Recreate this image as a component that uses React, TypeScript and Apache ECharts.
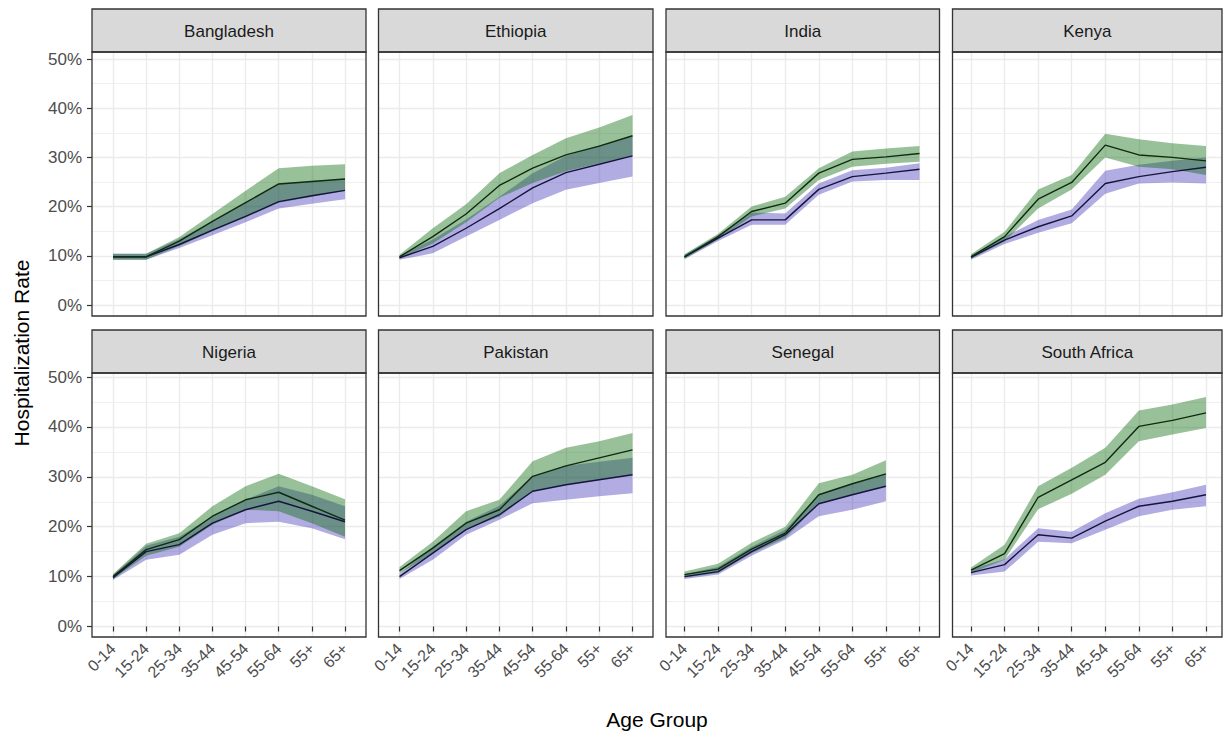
import React, { useEffect, useRef } from "react";
import * as echarts from "echarts";

// ---------------- data (percent) ----------------
const ageGroups = ["0-14", "15-24", "25-34", "35-44", "45-54", "55-64", "55+", "65+"];
const yTickStep = 10;
const yMaxTick = 50;

const bangladeshGreenMean = [9.8, 9.8, 13.0, 17.0, 20.8, 24.6, 25.1, 25.6];
const bangladeshGreenLow = [9.2, 9.2, 12.0, 15.0, 17.8, 20.8, 22.0, 23.2];
const bangladeshGreenHigh = [10.4, 10.4, 13.8, 18.5, 23.2, 27.8, 28.3, 28.6];
const bangladeshPurpleMean = [9.8, 9.8, 12.3, 15.2, 18.0, 21.0, 22.2, 23.3];
const bangladeshPurpleLow = [9.2, 9.2, 11.6, 14.2, 16.8, 19.6, 20.6, 21.5];
const bangladeshPurpleHigh = [10.4, 10.4, 13.4, 17.0, 20.8, 24.6, 25.1, 25.6];

const ethiopiaGreenMean = [9.8, 13.9, 18.5, 24.3, 27.8, 30.5, 32.3, 34.4];
const ethiopiaGreenLow = [9.4, 12.5, 16.8, 21.8, 24.8, 27.2, 28.8, 30.3];
const ethiopiaGreenHigh = [10.2, 15.6, 20.5, 26.8, 30.5, 33.9, 36.1, 38.6];
const ethiopiaPurpleMean = [9.6, 11.9, 15.6, 19.6, 23.8, 26.9, 28.6, 30.3];
const ethiopiaPurpleLow = [9.2, 10.5, 13.9, 17.3, 20.7, 23.4, 24.8, 26.1];
const ethiopiaPurpleHigh = [10.0, 13.3, 17.4, 22.0, 26.8, 30.3, 32.4, 34.4];

const indiaGreenMean = [9.8, 13.9, 19.0, 20.7, 26.8, 29.6, 30.1, 30.8];
const indiaGreenLow = [9.4, 13.3, 18.0, 19.6, 25.4, 28.1, 28.7, 29.1];
const indiaGreenHigh = [10.3, 14.5, 20.0, 22.0, 27.8, 31.2, 31.8, 32.3];
const indiaPurpleMean = [9.8, 13.6, 17.3, 17.3, 23.5, 26.1, 26.8, 27.6];
const indiaPurpleLow = [9.3, 13.0, 16.3, 16.3, 22.4, 25.1, 25.4, 25.4];
const indiaPurpleHigh = [10.2, 14.2, 18.8, 18.6, 24.7, 27.4, 27.9, 28.8];

const kenyaGreenMean = [9.8, 13.9, 21.5, 24.9, 32.5, 30.5, 30.0, 29.3];
const kenyaGreenLow = [9.4, 12.9, 19.6, 23.5, 30.0, 28.1, 27.6, 26.4];
const kenyaGreenHigh = [10.3, 14.9, 23.5, 26.4, 34.8, 33.7, 32.9, 32.3];
const kenyaPurpleMean = [9.7, 13.2, 15.9, 18.1, 24.7, 26.1, 27.1, 28.0];
const kenyaPurpleLow = [9.2, 12.4, 14.7, 16.6, 22.6, 24.7, 24.9, 24.7];
const kenyaPurpleHigh = [10.1, 13.9, 17.3, 19.4, 27.3, 28.5, 29.3, 30.0];

const nigeriaGreenMean = [10.0, 15.4, 17.4, 22.1, 25.4, 26.9, 24.1, 21.3];
const nigeriaGreenLow = [9.5, 14.2, 16.0, 20.4, 23.4, 23.1, 20.7, 18.0];
const nigeriaGreenHigh = [10.5, 16.6, 18.7, 24.1, 28.1, 30.6, 28.1, 25.5];
const nigeriaPurpleMean = [9.8, 15.0, 16.4, 20.7, 23.4, 25.1, 23.1, 21.0];
const nigeriaPurpleLow = [9.3, 13.4, 14.4, 18.4, 20.7, 21.0, 19.7, 17.5];
const nigeriaPurpleHigh = [10.3, 16.2, 18.0, 22.1, 25.4, 28.1, 26.4, 24.1];

const pakistanGreenMean = [11.2, 15.7, 20.7, 23.4, 30.1, 32.2, 33.8, 35.4];
const pakistanGreenLow = [10.6, 14.7, 19.5, 22.0, 27.1, 28.4, 29.4, 30.4];
const pakistanGreenHigh = [11.9, 17.0, 23.1, 25.4, 33.1, 35.8, 37.1, 38.8];
const pakistanPurpleMean = [10.0, 14.7, 19.4, 22.4, 27.1, 28.4, 29.4, 30.4];
const pakistanPurpleLow = [9.5, 13.4, 18.4, 21.4, 24.7, 25.4, 26.1, 26.7];
const pakistanPurpleHigh = [10.5, 16.0, 21.0, 24.2, 30.1, 32.2, 33.0, 33.8];

const senegalGreenMean = [10.4, 11.5, 15.5, 18.7, 26.4, 28.6, 30.6, null];
const senegalGreenLow = [9.8, 10.7, 14.7, 17.7, 24.6, 26.4, 28.1, null];
const senegalGreenHigh = [11.0, 12.6, 16.8, 20.0, 28.7, 30.4, 33.3, null];
const senegalPurpleMean = [10.0, 11.0, 15.0, 18.4, 24.6, 26.4, 28.1, null];
const senegalPurpleLow = [9.5, 10.4, 14.2, 17.4, 22.1, 23.4, 25.1, null];
const senegalPurpleHigh = [10.5, 11.9, 16.0, 19.4, 26.4, 28.6, 30.6, null];

const southAfricaGreenMean = [11.3, 14.6, 25.9, 29.4, 32.9, 40.1, 41.3, 42.8];
const southAfricaGreenLow = [10.7, 13.4, 23.5, 26.6, 30.4, 37.1, 38.5, 39.8];
const southAfricaGreenHigh = [11.8, 16.4, 28.1, 31.8, 35.8, 43.3, 44.5, 46.0];
const southAfricaPurpleMean = [10.8, 12.4, 18.4, 17.7, 21.1, 24.1, 25.1, 26.4];
const southAfricaPurpleLow = [10.2, 11.0, 17.0, 16.7, 19.4, 22.1, 23.4, 24.1];
const southAfricaPurpleHigh = [11.4, 13.5, 19.7, 19.0, 22.7, 25.6, 26.9, 28.4];

const countries = ["Bangladesh", "Ethiopia", "India", "Kenya", "Nigeria", "Pakistan", "Senegal", "South Africa"];

type V = (number | null)[];
const panels: { name: string; gM: V; gL: V; gH: V; pM: V; pL: V; pH: V }[] = [
  { name: countries[0], gM: bangladeshGreenMean, gL: bangladeshGreenLow, gH: bangladeshGreenHigh, pM: bangladeshPurpleMean, pL: bangladeshPurpleLow, pH: bangladeshPurpleHigh },
  { name: countries[1], gM: ethiopiaGreenMean, gL: ethiopiaGreenLow, gH: ethiopiaGreenHigh, pM: ethiopiaPurpleMean, pL: ethiopiaPurpleLow, pH: ethiopiaPurpleHigh },
  { name: countries[2], gM: indiaGreenMean, gL: indiaGreenLow, gH: indiaGreenHigh, pM: indiaPurpleMean, pL: indiaPurpleLow, pH: indiaPurpleHigh },
  { name: countries[3], gM: kenyaGreenMean, gL: kenyaGreenLow, gH: kenyaGreenHigh, pM: kenyaPurpleMean, pL: kenyaPurpleLow, pH: kenyaPurpleHigh },
  { name: countries[4], gM: nigeriaGreenMean, gL: nigeriaGreenLow, gH: nigeriaGreenHigh, pM: nigeriaPurpleMean, pL: nigeriaPurpleLow, pH: nigeriaPurpleHigh },
  { name: countries[5], gM: pakistanGreenMean, gL: pakistanGreenLow, gH: pakistanGreenHigh, pM: pakistanPurpleMean, pL: pakistanPurpleLow, pH: pakistanPurpleHigh },
  { name: countries[6], gM: senegalGreenMean, gL: senegalGreenLow, gH: senegalGreenHigh, pM: senegalPurpleMean, pL: senegalPurpleLow, pH: senegalPurpleHigh },
  { name: countries[7], gM: southAfricaGreenMean, gL: southAfricaGreenLow, gH: southAfricaGreenHigh, pM: southAfricaPurpleMean, pL: southAfricaPurpleLow, pH: southAfricaPurpleHigh },
];

// ---------------- layout ----------------
const FONT = '"Liberation Sans", Arial, sans-serif';
const PANEL_LEFT = [92, 378.5, 666, 952.5];
const PANEL_RIGHT = [366, 653, 939.5, 1222];
const DATA_LEFT = [113, 399.5, 684.5, 971];
const DATA_RIGHT = [345, 632.5, 919.5, 1206];
const STRIP_TOP = [9, 330];
const PANEL_TOP = [52, 373];
const PANEL_BOTTOM = [316, 637];
const Y_ZERO = [305, 626.5];
const Y_TOP_TICK = [59, 377];

const GREEN_FILL = "rgba(0,100,0,0.40)";
const PURPLE_FILL = "rgba(50,40,180,0.38)";
const GREEN_LINE = "#0f2a0f";
const PURPLE_LINE = "#16133d";
const GRID_COLOR = "#ebebeb";

const diff = (hi: V, lo: V) => hi.map((h, i) => (h == null || lo[i] == null ? null : +(h - (lo[i] as number)).toFixed(3)));

function buildOption() {
  const grid: any[] = [];
  const xAxis: any[] = [];
  const yAxis: any[] = [];
  const series: any[] = [];
  const graphic: any[] = [];

  panels.forEach((p, i) => {
    const r = Math.floor(i / 4);
    const c = i % 4;
    const pxPerUnit = (Y_ZERO[r] - Y_TOP_TICK[r]) / yMaxTick;
    const yMinB = -(PANEL_BOTTOM[r] - Y_ZERO[r]) / pxPerUnit;
    const yMaxB = yMaxTick + (Y_TOP_TICK[r] - PANEL_TOP[r]) / pxPerUnit;

    // grid A: horizontal grid lines + y labels
    grid.push({ left: PANEL_LEFT[c], top: Y_TOP_TICK[r], width: PANEL_RIGHT[c] - PANEL_LEFT[c], height: Y_ZERO[r] - Y_TOP_TICK[r], show: false });
    xAxis.push({ gridIndex: 2 * i, type: "value", min: 0, max: 1, show: false });
    yAxis.push({
      gridIndex: 2 * i,
      type: "value",
      min: 0,
      max: yMaxTick,
      interval: yTickStep,
      axisLine: { show: false },
      axisTick: { show: c === 0, length: 5, lineStyle: { color: "#333", width: 1.2 } },
      axisLabel: { show: c === 0, formatter: (v: number) => `${v}%`, color: "#4d4d4d", fontSize: 17, fontFamily: FONT, margin: 10 },
      splitLine: { show: true, lineStyle: { color: GRID_COLOR, width: 1.4 } },
      minorTick: { show: false, splitNumber: 2 },
      minorSplitLine: { show: true, lineStyle: { color: "#f0f0f0", width: 1 } },
    });

    // grid B: data + vertical grid lines + x labels
    grid.push({ left: DATA_LEFT[c], top: PANEL_TOP[r], width: DATA_RIGHT[c] - DATA_LEFT[c], height: PANEL_BOTTOM[r] - PANEL_TOP[r], show: false });
    xAxis.push({
      gridIndex: 2 * i + 1,
      type: "category",
      data: ageGroups,
      boundaryGap: false,
      axisLine: { show: false },
      axisTick: { show: r === 1, interval: 0, length: 5, lineStyle: { color: "#333", width: 1.2 } },
      axisLabel: { show: r === 1, interval: 0, rotate: 45, color: "#4d4d4d", fontSize: 16, fontFamily: FONT, margin: 9 },
      splitLine: { show: true, interval: 0, lineStyle: { color: GRID_COLOR, width: 1.4 } },
    });
    yAxis.push({ gridIndex: 2 * i + 1, type: "value", min: yMinB, max: yMaxB, show: false });

    const ax = { xAxisIndex: 2 * i + 1, yAxisIndex: 2 * i + 1 };
    const hidden = { symbol: "none", silent: true, lineStyle: { opacity: 0, width: 0 } };
    series.push({ type: "line", ...ax, ...hidden, name: `${p.name} B low`, stack: `p${i}`, data: p.pL });
    series.push({ type: "line", ...ax, ...hidden, name: `${p.name} B band`, stack: `p${i}`, data: diff(p.pH, p.pL), areaStyle: { color: PURPLE_FILL, opacity: 1 }, z: 2 });
    series.push({ type: "line", ...ax, ...hidden, name: `${p.name} A low`, stack: `g${i}`, data: p.gL });
    series.push({ type: "line", ...ax, ...hidden, name: `${p.name} A band`, stack: `g${i}`, data: diff(p.gH, p.gL), areaStyle: { color: GREEN_FILL, opacity: 1 }, z: 3 });
    series.push({ type: "line", ...ax, name: `${p.name} B`, data: p.pM, symbol: "none", silent: true, lineStyle: { color: PURPLE_LINE, width: 1.4 }, z: 4 });
    series.push({ type: "line", ...ax, name: `${p.name} A`, data: p.gM, symbol: "none", silent: true, lineStyle: { color: GREEN_LINE, width: 1.4 }, z: 5 });

    // strip
    graphic.push({
      type: "rect",
      shape: { x: PANEL_LEFT[c], y: STRIP_TOP[r], width: PANEL_RIGHT[c] - PANEL_LEFT[c], height: PANEL_TOP[r] - STRIP_TOP[r] },
      style: { fill: "#d9d9d9", stroke: "#333", lineWidth: 1.3 },
      z: 10,
    });
    graphic.push({
      type: "text",
      x: (PANEL_LEFT[c] + PANEL_RIGHT[c]) / 2,
      y: (STRIP_TOP[r] + PANEL_TOP[r]) / 2 + 1,
      style: { text: p.name, fill: "#1a1a1a", font: `17px ${FONT}`, align: "center", verticalAlign: "middle" },
      z: 11,
    });
    // panel border
    graphic.push({
      type: "rect",
      shape: { x: PANEL_LEFT[c], y: PANEL_TOP[r], width: PANEL_RIGHT[c] - PANEL_LEFT[c], height: PANEL_BOTTOM[r] - PANEL_TOP[r] },
      style: { fill: "none", stroke: "#333", lineWidth: 1.3 },
      z: 10,
    });
  });

  graphic.push({
    type: "text",
    x: 21,
    y: 353,
    rotation: Math.PI / 2,
    style: { text: "Hospitalization Rate", fill: "#000", font: `21px ${FONT}`, align: "center", verticalAlign: "middle" },
    z: 11,
  });
  graphic.push({
    type: "text",
    x: 657,
    y: 719,
    style: { text: "Age Group", fill: "#000", font: `21px ${FONT}`, align: "center", verticalAlign: "middle" },
    z: 11,
  });

  return { animation: false, backgroundColor: "#fff", grid, xAxis, yAxis, series, graphic };
}

export default function App() {
  const ref = useRef<HTMLDivElement>(null);
  useEffect(() => {
    if (!ref.current) return;
    const chart = echarts.init(ref.current, null, { renderer: "svg" });
    chart.setOption(buildOption() as any);
    return () => chart.dispose();
  }, []);
  return <div ref={ref} style={{ position: "fixed", left: 0, top: 0, width: 1223, height: 738, background: "#fff" }} />;
}
